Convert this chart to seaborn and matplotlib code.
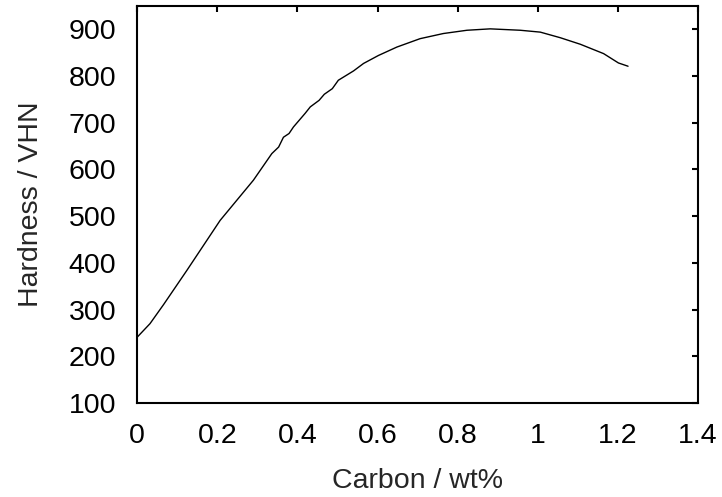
import matplotlib
matplotlib.use("Agg")
import matplotlib.pyplot as plt
import seaborn as sns
import pandas as pd

# hardness of quenched steel vs carbon content
carbon = [0.0, 0.032, 0.066, 0.124, 0.207, 0.29, 0.336, 0.353, 0.365, 0.379,
          0.39, 0.419, 0.432, 0.454, 0.467, 0.487, 0.502, 0.54, 0.565, 0.602,
          0.648, 0.706, 0.764, 0.823, 0.881, 0.956, 1.006, 1.056, 1.106,
          1.164, 1.201, 1.225]
hardness = [241, 270, 311, 384, 491, 577, 634, 648, 669, 677,
            691, 720, 734, 748, 761, 773, 791, 811, 827, 844,
            862, 880, 891, 898, 901, 898, 894, 882, 868,
            848, 828, 821]

x_ticks = [0, 0.2, 0.4, 0.6, 0.8, 1.0, 1.2, 1.4]
x_tick_labels = ["0", "0.2", "0.4", "0.6", "0.8", "1", "1.2", "1.4"]
y_ticks = [100, 200, 300, 400, 500, 600, 700, 800, 900]

df = pd.DataFrame({"carbon": carbon, "hardness": hardness})

sns.set_style("white")
plt.rcParams["font.family"] = ["Liberation Sans", "DejaVu Sans"]

fig = plt.figure(figsize=(7.22, 4.97), dpi=100)
ax = fig.add_axes([0.19, 0.189, 0.777, 0.799])

sns.lineplot(data=df, x="carbon", y="hardness", color="black",
             linewidth=1.0, ax=ax, sort=False)

ax.set_xlim(0, 1.4)
ax.set_ylim(100, 950)
ax.set_xticks(x_ticks)
ax.set_xticklabels(x_tick_labels)
ax.set_yticks(y_ticks)

ax.tick_params(direction="in", length=4.5, width=1.5, labelsize=20.5,
               top=True, right=True, colors="black")
ax.tick_params(axis="y", pad=15)
ax.tick_params(axis="x", pad=14)
for s in ax.spines.values():
    s.set_linewidth(1.5)
    s.set_color("black")

ax.set_xlabel("Carbon / wt%", fontsize=20.5, labelpad=14)
ax.set_ylabel("Hardness / VHN", fontsize=20.5, labelpad=18)

fig.savefig("out.png", dpi=100)
